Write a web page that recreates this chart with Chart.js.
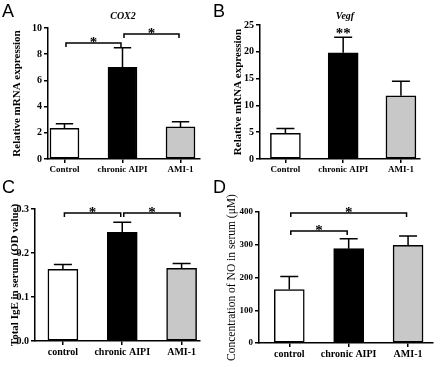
<!DOCTYPE html>
<html>
<head>
<meta charset="utf-8">
<script src="https://cdn.jsdelivr.net/npm/chart.js@4.4.0/dist/chart.umd.min.js"></script>
<style>
body { margin: 0; background: #fff; }
#wrap { position: relative; width: 440px; height: 367px; overflow: hidden; }
.panel { position: absolute; }
.letter { position: absolute; font-family: "Liberation Sans", Arial, sans-serif; font-size: 18px; line-height: 1; color: #000; }
.gene { position: absolute; font-family: "Liberation Serif", serif; font-weight: bold; font-style: italic; font-size: 10px; transform: translate(-50%, -50%); color: #000; }
</style>
</head>
<body>
<div id="wrap">
  <div class="panel" style="left:0;top:0;width:220px;height:184px"><canvas id="chartA"></canvas></div>
  <div class="panel" style="left:220px;top:0;width:220px;height:184px"><canvas id="chartB"></canvas></div>
  <div class="panel" style="left:0;top:184px;width:220px;height:183px"><canvas id="chartC"></canvas></div>
  <div class="panel" style="left:220px;top:184px;width:220px;height:183px"><canvas id="chartD"></canvas></div>
  <div class="letter" style="left:2px;top:2px">A</div>
  <div class="letter" style="left:213px;top:2px">B</div>
  <div class="letter" style="left:2px;top:178px">C</div>
  <div class="letter" style="left:213px;top:178px">D</div>
  <div class="gene" style="left:123px;top:15px">COX2</div>
  <div class="gene" style="left:345px;top:15px">Vegf</div>
</div>
<script>
// groups
var groupsUpper = ['Control', 'chronic AIPI', 'AMI-1'];
var groupsLower = ['control', 'chronic AIPI', 'AMI-1'];

// A: COX2 mRNA
var cox2Mean = [2.35, 7.0, 2.45];
var cox2Sem = [0.35, 1.5, 0.4];
var cox2Ticks = [0, 2, 4, 6, 8, 10];
var cox2Sig = [[0, 1, 8.85, '*'], [1, 2, 9.55, '*']];

// B: Vegf mRNA
var vegfMean = [4.8, 19.8, 11.8];
var vegfSem = [0.9, 2.9, 2.7];
var vegfTicks = [0, 5, 10, 15, 20, 25];
var vegfSig = [[1, 1, 23.3, '**']];

// C: total IgE
var igeMean = [0.163, 0.247, 0.165];
var igeSem = [0.011, 0.023, 0.011];
var igeTicks = [0, 0.1, 0.2, 0.3];
var igeSig = [[0, 1, 0.291, '*'], [1, 2, 0.291, '*']];

// D: NO
var noMean = [163, 288, 298];
var noSem = [40, 30, 29];
var noTicks = [0, 100, 200, 300, 400];
var noSig = [[0, 1, 342, '*'], [0, 2, 397, '*']];

var barColors = ['#ffffff', '#000000', '#c8c8c8'];
var serif = '"Liberation Serif", "Times New Roman", serif';

function makePanel(id, p) {
    var W = 220;
    var extras = {
        id: 'extras',
        afterDatasetsDraw: function (chart) {
            var ctx = chart.ctx, x = chart.scales.x, y = chart.scales.y;
            ctx.save();
            ctx.strokeStyle = '#000';
            ctx.fillStyle = '#000';
            ctx.lineWidth = 1.5;
            // error bars, upper only
            p.means.forEach(function (m, i) {
                var xc = x.getPixelForValue(i);
                var y0 = y.getPixelForValue(m);
                var y1 = y.getPixelForValue(m + p.sems[i]);
                var cap = p.barW * 0.3;
                ctx.beginPath();
                ctx.moveTo(xc, y0);
                ctx.lineTo(xc, y1);
                ctx.moveTo(xc - cap, y1);
                ctx.lineTo(xc + cap, y1);
                ctx.stroke();
            });
            // significance
            ctx.font = 'bold 15px ' + serif;
            ctx.textAlign = 'center';
            ctx.textBaseline = 'alphabetic';
            p.sig.forEach(function (s) {
                var xa = x.getPixelForValue(s[0]);
                var xb = x.getPixelForValue(s[1]);
                var yh = y.getPixelForValue(s[2]);
                if (s[0] !== s[1]) {
                    xa += 1.5; xb -= 1.5;
                    ctx.beginPath();
                    ctx.moveTo(xa, yh + 4);
                    ctx.lineTo(xa, yh);
                    ctx.lineTo(xb, yh);
                    ctx.lineTo(xb, yh + 4);
                    ctx.stroke();
                }
                ctx.fillText(s[3], (xa + xb) / 2, yh + 4);
            });
            ctx.restore();
        }
    };

    new Chart(document.getElementById(id), {
        type: 'bar',
        data: {
            datasets: [{
                data: p.means.map(function (m, i) { return { x: i, y: m }; }),
                backgroundColor: barColors,
                borderColor: '#000',
                borderWidth: 1.5,
                borderSkipped: false,
                barThickness: p.barW
            }]
        },
        options: {
            responsive: true,
            maintainAspectRatio: false,
            animation: false,
            layout: { padding: { top: p.top, right: W - p.right, left: 0, bottom: 0 } },
            plugins: { legend: { display: false }, tooltip: { enabled: false } },
            scales: {
                x: {
                    type: 'linear',
                    min: p.xMin,
                    max: p.xMax,
                    offset: false,
                    afterBuildTicks: function (s) { s.ticks = p.labels.map(function (l, i) { return { value: i }; }); },
                    afterFit: function (s) { s.height = p.h - p.bottom; },
                    grid: { display: true, offset: false, drawOnChartArea: false, drawTicks: true, tickLength: 4, color: '#000', lineWidth: 1.5 },
                    border: { display: true, color: '#000', width: 1.5 },
                    ticks: {
                        callback: function (v) { return p.labels[v]; },
                        color: '#000',
                        font: { family: serif, weight: 'bold', size: p.xFont },
                        padding: 1, maxRotation: 0, autoSkip: false
                    }
                },
                y: {
                    min: 0,
                    max: p.ticks[p.ticks.length - 1],
                    afterBuildTicks: function (s) { s.ticks = p.ticks.map(function (v) { return { value: v }; }); },
                    afterFit: function (s) { s.width = p.left; },
                    grid: { display: true, drawOnChartArea: false, drawTicks: true, tickLength: 4, color: '#000', lineWidth: 1.5 },
                    border: { display: true, color: '#000', width: 1.5 },
                    ticks: {
                        callback: function (v) { return v.toFixed(p.dec); },
                        color: '#000',
                        font: { family: serif, weight: 'bold', size: p.yFont },
                        padding: 2
                    },
                    title: {
                        display: true,
                        text: p.title,
                        color: '#000',
                        font: { family: serif, weight: p.titleWeight, size: p.titleSize },
                        padding: { top: p.titlePad, bottom: 0 }
                    }
                }
            }
        },
        plugins: [extras]
    });
}

makePanel('chartA', {
    labels: groupsUpper, means: cox2Mean, sems: cox2Sem, ticks: cox2Ticks, sig: cox2Sig, dec: 0,
    h: 184, left: 48, right: 200, top: 28, bottom: 159, xMin: -0.284, xMax: 2.336, barW: 29,
    xFont: 9, yFont: 10, title: 'Relative mRNA expression', titleWeight: 'bold', titleSize: 11, titlePad: 10.4
});
makePanel('chartB', {
    labels: groupsUpper, means: vegfMean, sems: vegfSem, ticks: vegfTicks, sig: vegfSig, dec: 0,
    h: 184, left: 40, right: 200, top: 25, bottom: 159, xMin: -0.44, xMax: 2.33, barW: 30,
    xFont: 9, yFont: 10, title: 'Relative mRNA expression', titleWeight: 'bold', titleSize: 11, titlePad: 11.4
});
makePanel('chartC', {
    labels: groupsLower, means: igeMean, sems: igeSem, ticks: igeTicks, sig: igeSig, dec: 1,
    h: 183, left: 35, right: 200, top: 25, bottom: 157, xMin: -0.47, xMax: 2.31, barW: 30,
    xFont: 10, yFont: 10, title: 'Total IgE in serum (OD value)', titleWeight: 'bold', titleSize: 11, titlePad: 8.4
});
makePanel('chartD', {
    labels: groupsLower, means: noMean, sems: noSem, ticks: noTicks, sig: noSig, dec: 0,
    h: 183, left: 39, right: 213, top: 28, bottom: 159, xMin: -0.51, xMax: 2.42, barW: 30,
    xFont: 10, yFont: 9, title: 'Concentration of NO in serum (\u03bcM)', titleWeight: 'normal', titleSize: 11.5, titlePad: 5
});
</script>
</body>
</html>
